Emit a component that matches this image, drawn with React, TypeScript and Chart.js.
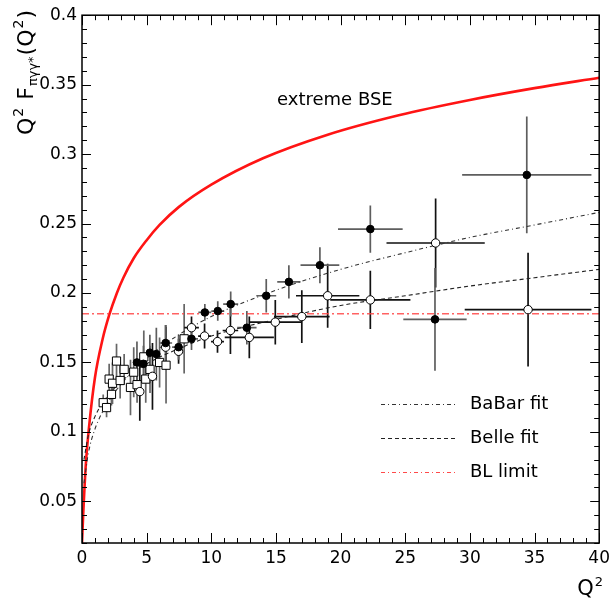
import React, { useEffect, useRef } from 'react';
import { Chart, registerables } from 'chart.js';

Chart.register(...registerables);

// ---- axis ticks ----
const xTickValues = [0, 5, 10, 15, 20, 25, 30, 35, 40];
const xTickLabels = ['0', '5', '10', '15', '20', '25', '30', '35', '40'];
const yTickValues = [0.05, 0.1, 0.15, 0.2, 0.25, 0.3, 0.35, 0.4];
const yTickLabels = ['0.05', '0.1', '0.15', '0.2', '0.25', '0.3', '0.35', '0.4'];

// ---- extreme BSE curve ----
const bseQ = [0, 0.1, 0.3, 0.55, 1.0, 1.6, 2.1, 2.7, 3.2, 4.0, 5.0, 6.0, 7.5, 10, 14, 19, 24.5, 30, 35, 40];
const bseF = [0.02, 0.042, 0.077, 0.104, 0.139, 0.167, 0.184, 0.2, 0.211, 0.225, 0.238, 0.249, 0.262, 0.278, 0.297, 0.314, 0.328, 0.339, 0.3475, 0.355];

// ---- fits ----
const fitQ = [0.15, 0.5, 1, 2, 3, 5, 7.5, 10, 15, 20, 25, 30, 35, 40];
const babarFitF = [0.063, 0.085, 0.102, 0.121, 0.134, 0.153, 0.17, 0.183, 0.202, 0.217, 0.229, 0.24, 0.249, 0.258];
const belleFitF = [0.08, 0.098, 0.111, 0.126, 0.136, 0.149, 0.16, 0.169, 0.181, 0.191, 0.198, 0.205, 0.211, 0.217];
const blLimit = 0.185;

// ---- BaBar (filled circles) ----
const babarQ = [4.25, 4.75, 5.25, 5.75, 6.47, 7.47, 8.47, 9.5, 10.5, 11.5, 12.75, 14.25, 16.0, 18.4, 22.3, 27.3, 34.4];
const babarF = [0.150, 0.149, 0.157, 0.156, 0.164, 0.161, 0.167, 0.186, 0.187, 0.192, 0.175, 0.198, 0.208, 0.220, 0.246, 0.181, 0.285];
const babarErrF = [0.015, 0.013, 0.013, 0.019, 0.013, 0.009, 0.008, 0.006, 0.007, 0.009, 0.012, 0.012, 0.012, 0.013, 0.017, 0.037, 0.042];
const babarErrQ = [0.25, 0.25, 0.25, 0.25, 0.5, 0.5, 0.5, 0.5, 0.5, 0.58, 0.75, 0.77, 0.9, 1.5, 2.5, 2.45, 5.0];

// ---- Belle (open circles) ----
const belleQ = [4.47, 5.45, 6.47, 7.47, 8.47, 9.48, 10.48, 11.48, 12.94, 14.95, 17.0, 19.0, 22.3, 27.35, 34.5];
const belleF = [0.129, 0.140, 0.161, 0.158, 0.175, 0.169, 0.165, 0.173, 0.168, 0.179, 0.183, 0.198, 0.195, 0.236, 0.188];
const belleErrF = [0.021, 0.024, 0.016, 0.009, 0.008, 0.009, 0.008, 0.017, 0.015, 0.016, 0.019, 0.023, 0.021, 0.032, 0.041];
const belleErrQ = [0.25, 0.3, 0.3, 0.3, 0.57, 0.5, 0.5, 0.6, 1.9, 2.0, 2.15, 2.45, 3.1, 3.8, 4.9];

// ---- CLEO (open squares) ----
const cleoQ = [1.64, 1.9, 2.1, 2.28, 2.36, 2.67, 2.95, 3.26, 3.75, 4.0, 4.26, 4.78, 4.93, 5.26, 6.0, 6.5, 7.9];
const cleoF = [0.121, 0.1175, 0.138, 0.127, 0.135, 0.151, 0.137, 0.145, 0.132, 0.143, 0.134, 0.154, 0.138, 0.145, 0.150, 0.148, 0.167];
const cleoErrF = [0.006, 0.007, 0.011, 0.008, 0.015, 0.0125, 0.013, 0.011, 0.02, 0.018, 0.013, 0.019, 0.017, 0.017, 0.018, 0.0275, 0.025];
const cleoErrQ = [0.1, 0.1, 0.1, 0.1, 0.1, 0.1, 0.1, 0.1, 0.1, 0.1, 0.1, 0.1, 0.1, 0.1, 0.1, 0.1, 0.1];

const FONT = 'DejaVu Sans';

const pts = (xs: number[], ys: number[]) => xs.map((x, i) => ({ x, y: ys[i] }));

export default function App() {
  const ref = useRef<HTMLCanvasElement>(null);

  useEffect(() => {
    const canvas = ref.current!;
    const errSets = [
      { q: cleoQ, f: cleoF, ex: cleoErrQ, ey: cleoErrF, color: '#666666' },
      { q: belleQ, f: belleF, ex: belleErrQ, ey: belleErrF, color: '#111111' },
      { q: babarQ, f: babarF, ex: babarErrQ, ey: babarErrF, color: '#5e5e5e' },
    ];

    const errPlugin = {
      id: 'errbars',
      beforeDatasetsDraw(chart: any) {
        const { ctx, chartArea: a } = chart;
        const xs = chart.scales.x, ys = chart.scales.y;
        ctx.save();
        ctx.beginPath();
        ctx.rect(a.left, a.top, a.right - a.left, a.bottom - a.top);
        ctx.clip();
        for (const s of errSets) {
          ctx.strokeStyle = s.color;
          ctx.lineWidth = 1.7;
          s.q.forEach((q, i) => {
            const px = xs.getPixelForValue(q);
            const py = ys.getPixelForValue(s.f[i]);
            ctx.beginPath();
            ctx.moveTo(xs.getPixelForValue(q - s.ex[i]), py);
            ctx.lineTo(xs.getPixelForValue(q + s.ex[i]), py);
            ctx.moveTo(px, ys.getPixelForValue(s.f[i] - s.ey[i]));
            ctx.lineTo(px, ys.getPixelForValue(s.f[i] + s.ey[i]));
            ctx.stroke();
          });
        }
        ctx.restore();
      },
    };

    type Piece = { t: string; s: number; dy: number };
    const drawRich = (ctx: CanvasRenderingContext2D, pieces: Piece[], x0: number) => {
      let x = x0;
      for (const p of pieces) {
        ctx.font = `${p.s}px "${FONT}"`;
        ctx.fillText(p.t, x, p.dy);
        x += ctx.measureText(p.t).width + 1;
      }
      return x;
    };
    const richWidth = (ctx: CanvasRenderingContext2D, pieces: Piece[]) => {
      let w = 0;
      for (const p of pieces) {
        ctx.font = `${p.s}px "${FONT}"`;
        w += ctx.measureText(p.t).width + 1;
      }
      return w;
    };

    const decorPlugin = {
      id: 'decor',
      afterDraw(chart: any) {
        const { ctx, chartArea: a } = chart;
        const xs = chart.scales.x, ys = chart.scales.y;
        ctx.save();
        ctx.strokeStyle = '#000';
        ctx.fillStyle = '#000';
        // frame
        ctx.lineWidth = 1.5;
        ctx.strokeRect(a.left, a.top, a.right - a.left, a.bottom - a.top);
        ctx.lineWidth = 1;
        ctx.beginPath();
        // x ticks (inside, bottom & top)
        for (let q = 0; q <= 40; q += 1) {
          const px = Math.round(xs.getPixelForValue(q)) + 0.5;
          const len = q % 5 === 0 ? 10 : 5;
          ctx.moveTo(px, a.bottom);
          ctx.lineTo(px, a.bottom - len);
          ctx.moveTo(px, a.top);
          ctx.lineTo(px, a.top + len);
        }
        // y ticks (inside, left & right)
        for (let k = 2; k <= 40; k += 1) {
          const py = Math.round(ys.getPixelForValue(k / 100)) + 0.5;
          const len = k % 5 === 0 ? 9 : 5;
          ctx.moveTo(a.left, py);
          ctx.lineTo(a.left + len, py);
          ctx.moveTo(a.right, py);
          ctx.lineTo(a.right - len, py);
        }
        ctx.stroke();

        // annotation
        ctx.textBaseline = 'middle';
        ctx.textAlign = 'left';
        ctx.font = `18px "${FONT}"`;
        ctx.fillText('extreme BSE', 277, 100);

        // legend
        const legend = [
          { label: 'BaBar fit', color: '#333', dash: [4, 3, 1, 3], y: 404 },
          { label: 'Belle fit', color: '#222', dash: [4, 3], y: 438 },
          { label: 'BL limit', color: '#ff4a4a', dash: [4, 3, 1, 3], y: 472 },
        ];
        for (const l of legend) {
          ctx.save();
          ctx.strokeStyle = l.color;
          ctx.lineWidth = 1;
          ctx.setLineDash(l.dash);
          ctx.beginPath();
          ctx.moveTo(381, l.y + 0.5);
          ctx.lineTo(458, l.y + 0.5);
          ctx.stroke();
          ctx.restore();
          ctx.font = `18px "${FONT}"`;
          ctx.fillText(l.label, 470, l.y);
        }

        // y title (rotated)
        ctx.textBaseline = 'alphabetic';
        const yPieces: Piece[] = [
          { t: 'Q', s: 22, dy: 0 },
          { t: '2', s: 14, dy: -10 },
          { t: ' F', s: 22, dy: 0 },
          { t: 'πγγ*', s: 13, dy: 4 },
          { t: '(Q', s: 22, dy: 0 },
          { t: '2', s: 14, dy: -10 },
          { t: ')', s: 22, dy: 0 },
        ];
        const w = richWidth(ctx, yPieces);
        ctx.save();
        ctx.translate(33, 9 + w);
        ctx.rotate(-Math.PI / 2);
        drawRich(ctx, yPieces, 0);
        ctx.restore();

        // x title
        const xPieces: Piece[] = [
          { t: 'Q', s: 21, dy: 0 },
          { t: '2', s: 13, dy: -9 },
        ];
        const wx = richWidth(ctx, xPieces);
        ctx.save();
        ctx.translate(604 - wx, 595);
        drawRich(ctx, xPieces, 0);
        ctx.restore();
        ctx.restore();
      },
    };

    const chart = new Chart(canvas, {
      type: 'scatter',
      data: {
        datasets: [
          {
            label: 'BaBar',
            data: pts(babarQ, babarF),
            pointStyle: 'circle',
            pointRadius: 3.8,
            backgroundColor: '#000',
            borderColor: '#000',
            borderWidth: 1,
            showLine: false,
            order: 0,
          },
          {
            label: 'Belle',
            data: pts(belleQ, belleF),
            pointStyle: 'circle',
            pointRadius: 4.2,
            backgroundColor: '#fff',
            borderColor: '#000',
            borderWidth: 1,
            showLine: false,
            order: 1,
          },
          {
            label: 'CLEO',
            data: pts(cleoQ, cleoF),
            pointStyle: 'rect',
            pointRadius: 5.8,
            backgroundColor: '#fff',
            borderColor: '#000',
            borderWidth: 1,
            showLine: false,
            order: 2,
          },
          {
            label: 'BaBar fit',
            data: pts(fitQ, babarFitF),
            showLine: true,
            borderColor: '#333',
            borderWidth: 1.1,
            borderDash: [4, 3, 1, 3],
            pointRadius: 0,
            cubicInterpolationMode: 'monotone',
            order: 3,
          },
          {
            label: 'Belle fit',
            data: pts(fitQ, belleFitF),
            showLine: true,
            borderColor: '#222',
            borderWidth: 1.1,
            borderDash: [4, 3],
            pointRadius: 0,
            cubicInterpolationMode: 'monotone',
            order: 4,
          },
          {
            label: 'BL limit',
            data: [
              { x: 0, y: blLimit },
              { x: 40, y: blLimit },
            ],
            showLine: true,
            borderColor: 'rgba(255,70,70,0.85)',
            borderWidth: 1.6,
            borderDash: [7, 3, 2, 3],
            pointRadius: 0,
            order: 5,
          },
          {
            label: 'extreme BSE',
            data: pts(bseQ, bseF),
            showLine: true,
            borderColor: '#ff1414',
            borderWidth: 2.6,
            pointRadius: 0,
            cubicInterpolationMode: 'monotone',
            order: 6,
          },
        ],
      } as any,
      options: {
        animation: false,
        responsive: false,
        devicePixelRatio: 1,
        layout: { padding: { left: 0, top: 15, right: 13, bottom: 0 } },
        plugins: { legend: { display: false }, tooltip: { enabled: false } },
        scales: {
          x: {
            type: 'linear',
            min: 0,
            max: 40,
            grid: { display: false, drawTicks: false },
            border: { display: false },
            afterBuildTicks: (s: any) => {
              s.ticks = xTickValues.map((v) => ({ value: v }));
            },
            afterFit: (s: any) => {
              s.height = 58;
            },
            ticks: {
              autoSkip: false,
              maxRotation: 0,
              padding: 5,
              color: '#000',
              font: { family: FONT, size: 17 },
              callback: (_v: any, i: number) => xTickLabels[i],
            },
          },
          y: {
            type: 'linear',
            min: 0.02,
            max: 0.4,
            grid: { display: false, drawTicks: false },
            border: { display: false },
            afterBuildTicks: (s: any) => {
              s.ticks = yTickValues.map((v) => ({ value: v }));
            },
            afterFit: (s: any) => {
              s.width = 82;
            },
            ticks: {
              autoSkip: false,
              padding: 5,
              color: '#000',
              font: { family: FONT, size: 17 },
              callback: (_v: any, i: number) => yTickLabels[i],
            },
          },
        },
      } as any,
      plugins: [errPlugin, decorPlugin],
    });
    return () => chart.destroy();
  }, []);

  return (
    <div style={{ position: 'absolute', left: 0, top: 0, width: 615, height: 601, background: '#fff' }}>
      <canvas ref={ref} width={615} height={601} />
    </div>
  );
}
